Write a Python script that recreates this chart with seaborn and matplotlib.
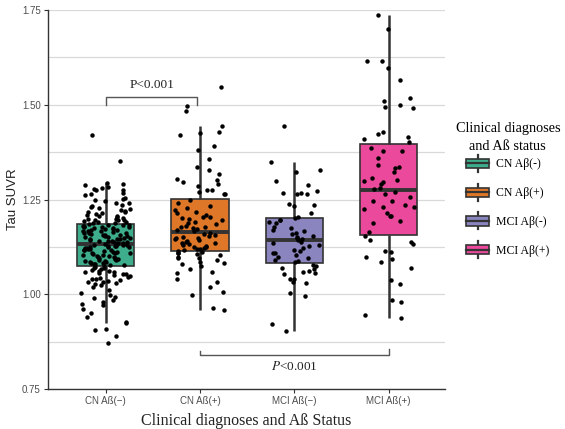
import numpy as np
import pandas as pd
import matplotlib
matplotlib.use("Agg")
import matplotlib.pyplot as plt
import seaborn as sns
from matplotlib.patches import Rectangle
from matplotlib.lines import Line2D
from matplotlib.legend_handler import HandlerBase
from matplotlib.colors import to_rgb

# ---------------- data ----------------
groups = ["CN A\u00df(\u2212)", "CN A\u00df(+)", "MCI A\u00df(\u2212)", "MCI A\u00df(+)"]
legend_labels = ["CN A\u03b2(-)", "CN A\u03b2(+)", "MCI A\u03b2(-)", "MCI A\u03b2(+)"]
base_colors = ["#1B9E77", "#D95F02", "#7570B3", "#E7298A"]

cn_neg = [
    0.873, 0.891, 0.906, 0.909, 0.924, 0.928, 0.941, 0.950, 0.962, 0.972,
    0.975, 0.981, 0.985, 0.990, 0.994, 0.998, 1.005, 1.012, 1.020, 1.025,
    1.028, 1.030, 1.032, 1.034, 1.036, 1.038, 1.040, 1.042, 1.044, 1.046,
    1.048, 1.050, 1.053, 1.055, 1.057, 1.058, 1.060, 1.061, 1.063, 1.065,
    1.067, 1.069, 1.070, 1.072, 1.074,
    1.077, 1.078, 1.080, 1.081, 1.082, 1.084, 1.085, 1.086, 1.088, 1.089,
    1.090, 1.092, 1.093, 1.094, 1.096, 1.097, 1.098, 1.100, 1.101, 1.102,
    1.104, 1.105, 1.106, 1.108, 1.109, 1.110, 1.112, 1.113, 1.114, 1.116,
    1.117, 1.118, 1.120, 1.121, 1.122, 1.123, 1.124, 1.125, 1.126, 1.127,
    1.128, 1.129, 1.130, 1.131, 1.131,
    1.133, 1.134, 1.135, 1.136, 1.137, 1.138, 1.140, 1.141, 1.142, 1.143,
    1.145, 1.146, 1.147, 1.148, 1.150, 1.151, 1.152, 1.153, 1.155, 1.156,
    1.157, 1.158, 1.160, 1.161, 1.162, 1.163, 1.165, 1.166, 1.167, 1.168,
    1.170, 1.171, 1.172, 1.173, 1.175, 1.176, 1.177, 1.178, 1.179, 1.180,
    1.181, 1.182, 1.183, 1.184, 1.185,
    1.187, 1.189, 1.190, 1.192, 1.193, 1.195, 1.196, 1.197, 1.199, 1.200,
    1.202, 1.204, 1.206, 1.208, 1.210, 1.212, 1.214, 1.216, 1.218, 1.220,
    1.222, 1.224, 1.227, 1.230, 1.232, 1.235, 1.240, 1.242, 1.245, 1.249,
    1.251, 1.255, 1.261, 1.265, 1.268, 1.274, 1.275, 1.278, 1.280, 1.282,
    1.288, 1.292, 1.293, 1.352, 1.420,
]
cn_pos = [
    0.959, 0.965, 0.998, 1.007, 1.020, 1.034, 1.042, 1.057, 1.060, 1.066,
    1.075, 1.079, 1.082, 1.086, 1.091, 1.095, 1.097, 1.100, 1.104, 1.107,
    1.108, 1.110, 1.112,
    1.115, 1.117, 1.119, 1.121, 1.123, 1.124, 1.126, 1.128, 1.130, 1.133,
    1.135, 1.136, 1.139, 1.141, 1.143, 1.145, 1.148, 1.150, 1.152, 1.154,
    1.157, 1.159, 1.161,
    1.166, 1.170, 1.172, 1.174, 1.179, 1.179, 1.181, 1.186, 1.189, 1.192,
    1.196, 1.198, 1.201, 1.205, 1.205, 1.209, 1.214, 1.216, 1.222, 1.227,
    1.233, 1.240, 1.248,
    1.265, 1.265, 1.271, 1.274, 1.275, 1.286, 1.291, 1.296, 1.302, 1.303,
    1.317, 1.327, 1.335, 1.356, 1.381, 1.392, 1.420, 1.426, 1.427, 1.445,
    1.484, 1.497, 1.546,
]
mci_neg = [
    0.904, 0.922, 0.996, 1.003, 1.029, 1.034, 1.040, 1.042, 1.054, 1.057,
    1.060, 1.063, 1.066, 1.069, 1.075, 1.078,
    1.086, 1.089, 1.091, 1.095, 1.100, 1.104, 1.108, 1.110, 1.115, 1.117,
    1.122, 1.128, 1.130, 1.135, 1.137, 1.144, 1.145, 1.148, 1.152, 1.154,
    1.159, 1.161, 1.167, 1.170, 1.174, 1.179, 1.188, 1.192, 1.195, 1.196,
    1.202, 1.203, 1.214, 1.234, 1.236, 1.238, 1.265, 1.265, 1.267, 1.268,
    1.272, 1.288, 1.300, 1.322, 1.328, 1.350, 1.444,
]
mci_pos = [
    0.937, 0.947, 0.981, 0.985, 1.027, 1.038, 1.069, 1.085, 1.093, 1.098,
    1.113, 1.115, 1.132, 1.139, 1.144, 1.155, 1.165, 1.189, 1.194, 1.207,
    1.207, 1.214, 1.225, 1.230, 1.231, 1.236, 1.245, 1.245, 1.258, 1.264,
    1.271, 1.277, 1.280, 1.290, 1.296, 1.299, 1.302, 1.306, 1.324, 1.332,
    1.337, 1.341, 1.359, 1.378, 1.378, 1.385, 1.401, 1.410, 1.416, 1.423,
    1.427, 1.491, 1.495, 1.499, 1.510, 1.519, 1.565, 1.596, 1.615, 1.615,
    1.700, 1.737,
]

y_ticks = [0.75, 1.00, 1.25, 1.50, 1.75]
y_minor = [0.875, 1.125, 1.375, 1.625]

# ---------------- build table ----------------
series = [cn_neg, cn_pos, mci_neg, mci_pos]
df = pd.DataFrame({
    "group": np.concatenate([[g] * len(v) for g, v in zip(groups, series)]),
    "suvr": np.concatenate(series),
})

def blend(c, a=0.85):
    r = np.array(to_rgb(c))
    return tuple(a * r + (1 - a) * np.ones(3))

fills = [blend(c) for c in base_colors]

SERIF = "Liberation Serif"
SANS = "Liberation Sans"

fig = plt.figure(figsize=(5.65, 4.29), dpi=100)
ax = fig.add_axes([0.0844, 0.0925, 0.7036, 0.8845])

edge = "#333333"
sns.boxplot(
    data=df, x="group", y="suvr", hue="group", order=groups, hue_order=groups,
    palette=fills, saturation=1, width=0.61, showfliers=False, showcaps=False,
    linecolor=edge, linewidth=1.2, legend=False, ax=ax,
    medianprops=dict(linewidth=2.8, color=edge),
    whiskerprops=dict(linewidth=1.8, color=edge),
)
np.random.seed(3)
sns.stripplot(
    data=df, x="group", y="suvr", order=groups, color="black", size=3.2,
    jitter=0.27, linewidth=0, ax=ax, zorder=4,
)

ax.set_xlim(-0.615, 3.6)
ax.set_ylim(0.75, 1.75)
ax.set_yticks(y_ticks)
ax.set_yticklabels([f"{t:.2f}" for t in y_ticks])
ax.set_yticks(y_minor, minor=True)
ax.tick_params(axis="y", which="minor", length=0)
ax.grid(axis="y", which="both", color="#d9d9d9", linewidth=0.9)
ax.set_axisbelow(True)
for s in ["top", "right"]:
    ax.spines[s].set_visible(False)
for s in ["left", "bottom"]:
    ax.spines[s].set_color(edge)
    ax.spines[s].set_linewidth(1.0)
ax.tick_params(axis="both", which="major", length=3, color=edge,
               labelsize=7, labelcolor="#4d4d4d", pad=2)
for lab in ax.get_xticklabels() + ax.get_yticklabels():
    lab.set_fontfamily(SANS)

ax.set_xlabel("Clinical diagnoses and A\u00df Status", fontfamily=SERIF,
              fontsize=11.5, color="#222222", labelpad=5)
ax.set_ylabel("Tau SUVR", fontfamily=SANS, fontsize=9.5, color="#222222",
              labelpad=2)

# significance brackets
bc = "#555555"
ax.plot([0, 0, 0.97, 0.97], [1.4995, 1.5214, 1.5214, 1.4995], color=bc,
        lw=1.0, zorder=5)
ax.text(0.49, 1.552, "P<0.001", ha="center", va="center", fontfamily=SERIF,
        fontsize=9.5, color="#222222")
ax.plot([1, 1, 3, 3], [0.852, 0.840, 0.840, 0.856], color=bc, lw=1.0,
        zorder=5)
ax.text(2.0, 0.810, "$P$<0.001", ha="center", va="center", fontfamily=SERIF,
        fontsize=9.5, color="#222222", math_fontfamily="stix")

# legend with boxplot-style keys
class BoxKey(HandlerBase):
    def create_artists(self, legend, orig_handle, xdescent, ydescent,
                       width, height, fontsize, trans):
        x0, y0 = -xdescent, -ydescent
        fc = orig_handle.get_facecolor()
        cx = x0 + width / 2
        wl = Line2D([cx, cx], [y0 - 0.15 * height, y0 + 1.15 * height],
                    color=edge, lw=1.6, transform=trans)
        r = Rectangle((x0, y0 + 0.15 * height), width, 0.7 * height,
                      facecolor=fc, edgecolor=edge, lw=1.2, transform=trans)
        ml = Line2D([x0, x0 + width], [y0 + height / 2, y0 + height / 2],
                    color=edge, lw=1.6, transform=trans)
        return [wl, r, ml]

handles = [Rectangle((0, 0), 1, 1, facecolor=f) for f in fills]
leg = fig.legend(
    handles, legend_labels, loc="upper left",
    bbox_to_anchor=(452 / 565, 1 - 118 / 429),
    title="Clinical diagnoses\nand A\u00df status", frameon=False,
    handler_map={Rectangle: BoxKey()},
    prop=dict(family=SERIF, size=8.5), handlelength=1.95, handleheight=1.33,
    labelspacing=1.3, handletextpad=0.55, borderaxespad=0, borderpad=0.3,
)
leg.get_title().set_fontfamily(SERIF)
leg.get_title().set_fontsize(10.3)
leg.get_title().set_multialignment("center")
leg.get_title().set_linespacing(1.5)
leg._legend_box.align = "center"
leg._legend_box.sep = 3

fig.savefig("out.png", dpi=100)
